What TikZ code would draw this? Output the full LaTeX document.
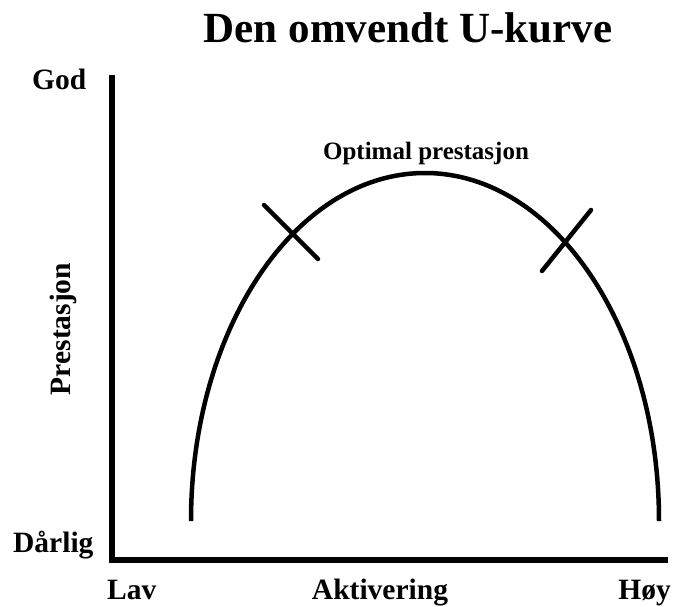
\documentclass[tikz,border=0pt]{standalone}
\usepackage{fontspec}
\setmainfont{Liberation Serif}
\usepackage{tikz}
\usetikzlibrary{positioning,calc}
\newcommand{\bigbf}[1]{\fontsize{#1}{#1}\selectfont\bfseries}

\begin{document}
\begin{tikzpicture}[
  x=1pt, y=-1pt,
  title/.style={font=\bigbf{43}, inner sep=0pt, anchor=base},
  lbl/.style={font=\bigbf{29.5}, inner sep=0pt},
  note/.style={font=\bigbf{25}, inner sep=0pt, anchor=base},
  axis/.style={line width=5.5pt, line join=miter},
  curve/.style={line width=4.5pt},
  tick/.style={line width=4.5pt, line cap=round}
]
\useasboundingbox (0,0) rectangle (673,606);

% axes
\coordinate (top) at (112,75);
\coordinate (orig) at (112,560);
\coordinate (end) at (668,560);
\draw[axis] (top) -- (orig) -- (end);

% labels
\node[title] (head) at (408,42) {Den omvendt U-kurve};
\node[lbl, anchor=base west] (god) at (32,89) {God};
\node[lbl, anchor=base west] (bad) at (13,552) {Dårlig};
\node[lbl, anchor=base, rotate=90] (perf) at (70,329) {Prestasjon};
\node[lbl, anchor=base west] (low) at (107,599) {Lav};
\node[lbl, anchor=base] (act) at (380,599) {Aktivering};
\node[lbl, anchor=base east] (high) at (671,599) {Høy};

% the curve
\coordinate (left) at (191,521);
\draw[curve] (left) arc[start angle=180, end angle=0, x radius=234pt, y radius=348pt] coordinate (right);
\node[note] (opt) at (426,159) {Optimal prestasjon};

% marks
\coordinate (la) at (264,205);
\coordinate (lb) at (318,259);
\coordinate (ra) at (591,210);
\coordinate (rb) at (542,271);
\draw[tick] (la) -- (lb);
\draw[tick] (ra) -- (rb);

\end{tikzpicture}
\end{document}
